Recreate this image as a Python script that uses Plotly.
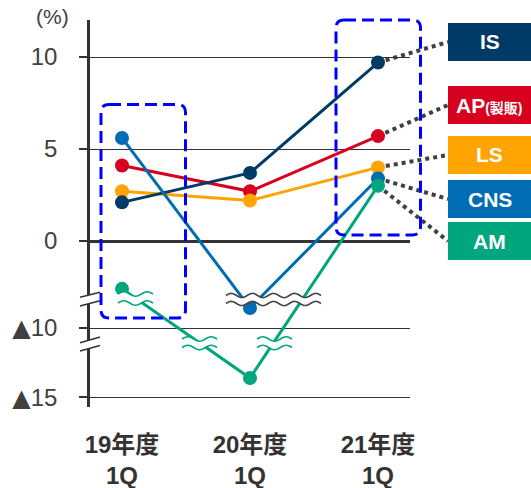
import numpy as np
import plotly.graph_objects as go

# ---- data -------------------------------------------------------------
periods = ["19年度<br>1Q", "20年度<br>1Q", "21年度<br>1Q"]
segments = ["IS", "AP", "LS", "CNS", "AM"]
is_vals = [2.1, 3.7, 9.7]
ap_vals = [4.1, 2.7, 5.7]
ls_vals = [2.7, 2.2, 4.0]
cns_vals = [5.6, -7.7, 3.4]
am_vals = [-5.5, -13.6, 3.0]

tick_vals = [-15, -10, 0, 5, 10]
tick_text = ["▲15", "▲10", "0", "5", "10"]
# broken value axis: where each tick value sits on the drawn scale
tick_pos = [-8.505, -4.728, 0, 5, 10]

colors = {
    "IS": "#003A66",
    "AP": "#D7001F",
    "LS": "#FFA400",
    "CNS": "#006CB3",
    "AM": "#00A67E",
}
label_text = {
    "IS": "<b>IS</b>",
    "AP": "<b>AP<span style='font-size:14px'>(製販)</span></b>",
    "LS": "<b>LS</b>",
    "CNS": "<b>CNS</b>",
    "AM": "<b>AM</b>",
}
series = {"IS": is_vals, "AP": ap_vals, "LS": ls_vals, "CNS": cns_vals, "AM": am_vals}


def scale(v):
    return np.interp(v, tick_vals, tick_pos)


def tick_label(t):
    # the triangle marks a negative value; draw it with a font that has a full-size glyph
    return t.replace("▲", "<span style='font-family:DejaVu Sans'>▲</span>")


# ---- geometry ---------------------------------------------------------
W, H = 531, 488
ML, MR, MT, MB = 90, 121, 20, 81
PX0, PX1, PY0, PY1 = ML, W - MR, MT, H - MB
X_RANGE = [-0.25, 2.25]
Y_RANGE = [-(407 - 241) / 18.4, (241 - 20) / 18.4]


def data_px(xd, yd):
    px = PX0 + (xd - X_RANGE[0]) / (X_RANGE[1] - X_RANGE[0]) * (PX1 - PX0)
    py = PY0 + (Y_RANGE[1] - yd) / (Y_RANGE[1] - Y_RANGE[0]) * (PY1 - PY0)
    return px, py


def fx(px):
    return (px - PX0) / (PX1 - PX0)


def fy(py):
    return (PY1 - py) / (PY1 - PY0)


def P(px, py):
    return f"{fx(px):.5f},{fy(py):.5f}"


def poly(pts, close=False):
    s = "M " + " L ".join(P(x, y) for x, y in pts)
    return s + (" Z" if close else "")


def rounded_rect(x0, y0, x1, y1, r):
    return (f"M {P(x0 + r, y0)} L {P(x1 - r, y0)} Q {P(x1, y0)} {P(x1, y0 + r)} "
            f"L {P(x1, y1 - r)} Q {P(x1, y1)} {P(x1 - r, y1)} L {P(x0 + r, y1)} "
            f"Q {P(x0, y1)} {P(x0, y1 - r)} L {P(x0, y0 + r)} Q {P(x0, y0)} {P(x0 + r, y0)} Z")


def wave(x0, x1, yc, amp, halves, n=40):
    xs = np.linspace(x0, x1, n)
    ys = yc - amp * np.sin(np.pi * halves * (xs - x0) / (x1 - x0))
    return list(zip(xs, ys))


fig = go.Figure()

# ---- lines ------------------------------------------------------------
for name in ["AP", "LS", "IS", "CNS", "AM"]:
    fig.add_trace(go.Scatter(
        x=[0, 1, 2], y=scale(series[name]), mode="lines+markers",
        line=dict(color=colors[name], width=3),
        marker=dict(size=14, color=colors[name]),
        cliponaxis=False, showlegend=False, hoverinfo="skip",
    ))

shapes = []
annotations = []


# ---- wavy break marks on the lines -------------------------------------
def line_break(x0, x1, y_up, y_lo, amp, halves, color):
    up = wave(x0, x1, y_up, amp, halves)
    lo = wave(x0, x1, y_lo, amp, halves)
    shapes.append(dict(type="path", xref="paper", yref="paper",
                       path=poly(up + lo[::-1], close=True),
                       fillcolor="white", line=dict(width=0), layer="above"))
    for pts in (up, lo):
        shapes.append(dict(type="path", xref="paper", yref="paper", path=poly(pts),
                           line=dict(color=color, width=1.6), layer="above"))


line_break(226, 321, 295.5, 303.5, 2.2, 9, "#444444")
line_break(118, 153, 294, 303, 2.2, 3, colors["AM"])
line_break(182, 217, 339, 347.5, 2.2, 3, colors["AM"])
line_break(257, 292, 339, 347.5, 2.2, 3, colors["AM"])

# ---- axis break marks --------------------------------------------------
for (ya, yb, yc, yd) in [(297.3, 292.3, 306, 300.7), (342.7, 337.0, 351, 345.5)]:
    shapes.append(dict(type="path", xref="paper", yref="paper",
                       path=poly([(80, ya), (100, yb), (100, yd), (80, yc)], close=True),
                       fillcolor="white", line=dict(width=0), layer="above"))
    for (y0, y1) in [(ya, yb), (yc, yd)]:
        shapes.append(dict(type="line", xref="paper", yref="paper",
                           x0=fx(80), x1=fx(100), y0=fy(y0), y1=fy(y1),
                           line=dict(color="#333333", width=1.6), layer="above"))

# ---- highlight boxes ---------------------------------------------------
for (x0, y0, x1, y1) in [(101, 104.5, 185.5, 318), (336, 20, 420.5, 235)]:
    shapes.append(dict(type="path", xref="paper", yref="paper",
                       path=rounded_rect(x0, y0, x1, y1, 8),
                       line=dict(color="#0000FF", width=3, dash="12px,6px"),
                       layer="above"))

# ---- segment labels with dotted leaders --------------------------------
label_rows = {"IS": (23, 61), "AP": (86, 124), "LS": (136, 174),
              "CNS": (180, 218), "AM": (222, 260)}
for name in segments:
    top, bot = label_rows[name]
    mid = (top + bot) / 2
    sx, sy = data_px(2, float(scale(series[name][-1])))
    shapes.append(dict(type="path", xref="paper", yref="paper",
                       path=poly([(sx, sy), (448, mid)]),
                       line=dict(color="#404040", width=4, dash="4px,4px"),
                       layer="below"))
    shapes.append(dict(type="rect", xref="paper", yref="paper",
                       x0=fx(448), x1=fx(545), y0=fy(bot), y1=fy(top),
                       fillcolor=colors[name], line=dict(width=0), layer="above"))
    annotations.append(dict(xref="paper", yref="paper", x=fx(489.5), y=fy(mid),
                            text=label_text[name], showarrow=False,
                            xanchor="center", yanchor="middle",
                            font=dict(size=21, color="white")))

annotations.append(dict(xref="paper", yref="paper", x=fx(52), y=fy(17),
                        text="(%)", showarrow=False, xanchor="center", yanchor="middle",
                        font=dict(size=21, color="#404040")))

fig.update_layout(
    width=W, height=H,
    margin=dict(l=ML, r=MR, t=MT, b=MB, pad=0, autoexpand=False),
    paper_bgcolor="white", plot_bgcolor="white",
    font=dict(family="Liberation Sans, Arial, Noto Sans CJK JP", color="#333333"),
    shapes=shapes, annotations=annotations,
    xaxis=dict(range=X_RANGE, tickvals=[0, 1, 2],
               ticktext=[f"<b>{p.replace('<br>', '</b><br><b>')}</b>" for p in periods],
               tickfont=dict(size=24, color="#333333"),
               showline=False, showgrid=False, zeroline=False, ticks="",
               ticklabelstandoff=21, automargin=False, fixedrange=True),
    yaxis=dict(range=Y_RANGE, tickvals=scale(tick_vals),
               ticktext=[tick_label(t) for t in tick_text],
               tickfont=dict(size=24, color="#404040"),
               showline=True, linecolor="#333333", linewidth=2.5,
               ticks="outside", ticklen=8, tickwidth=2, tickcolor="#333333",
               showgrid=True, gridcolor="#333333", gridwidth=1,
               zeroline=True, zerolinecolor="#333333", zerolinewidth=3,
               ticklabelstandoff=17, automargin=False, fixedrange=True),
)

fig.write_html("out.html")
